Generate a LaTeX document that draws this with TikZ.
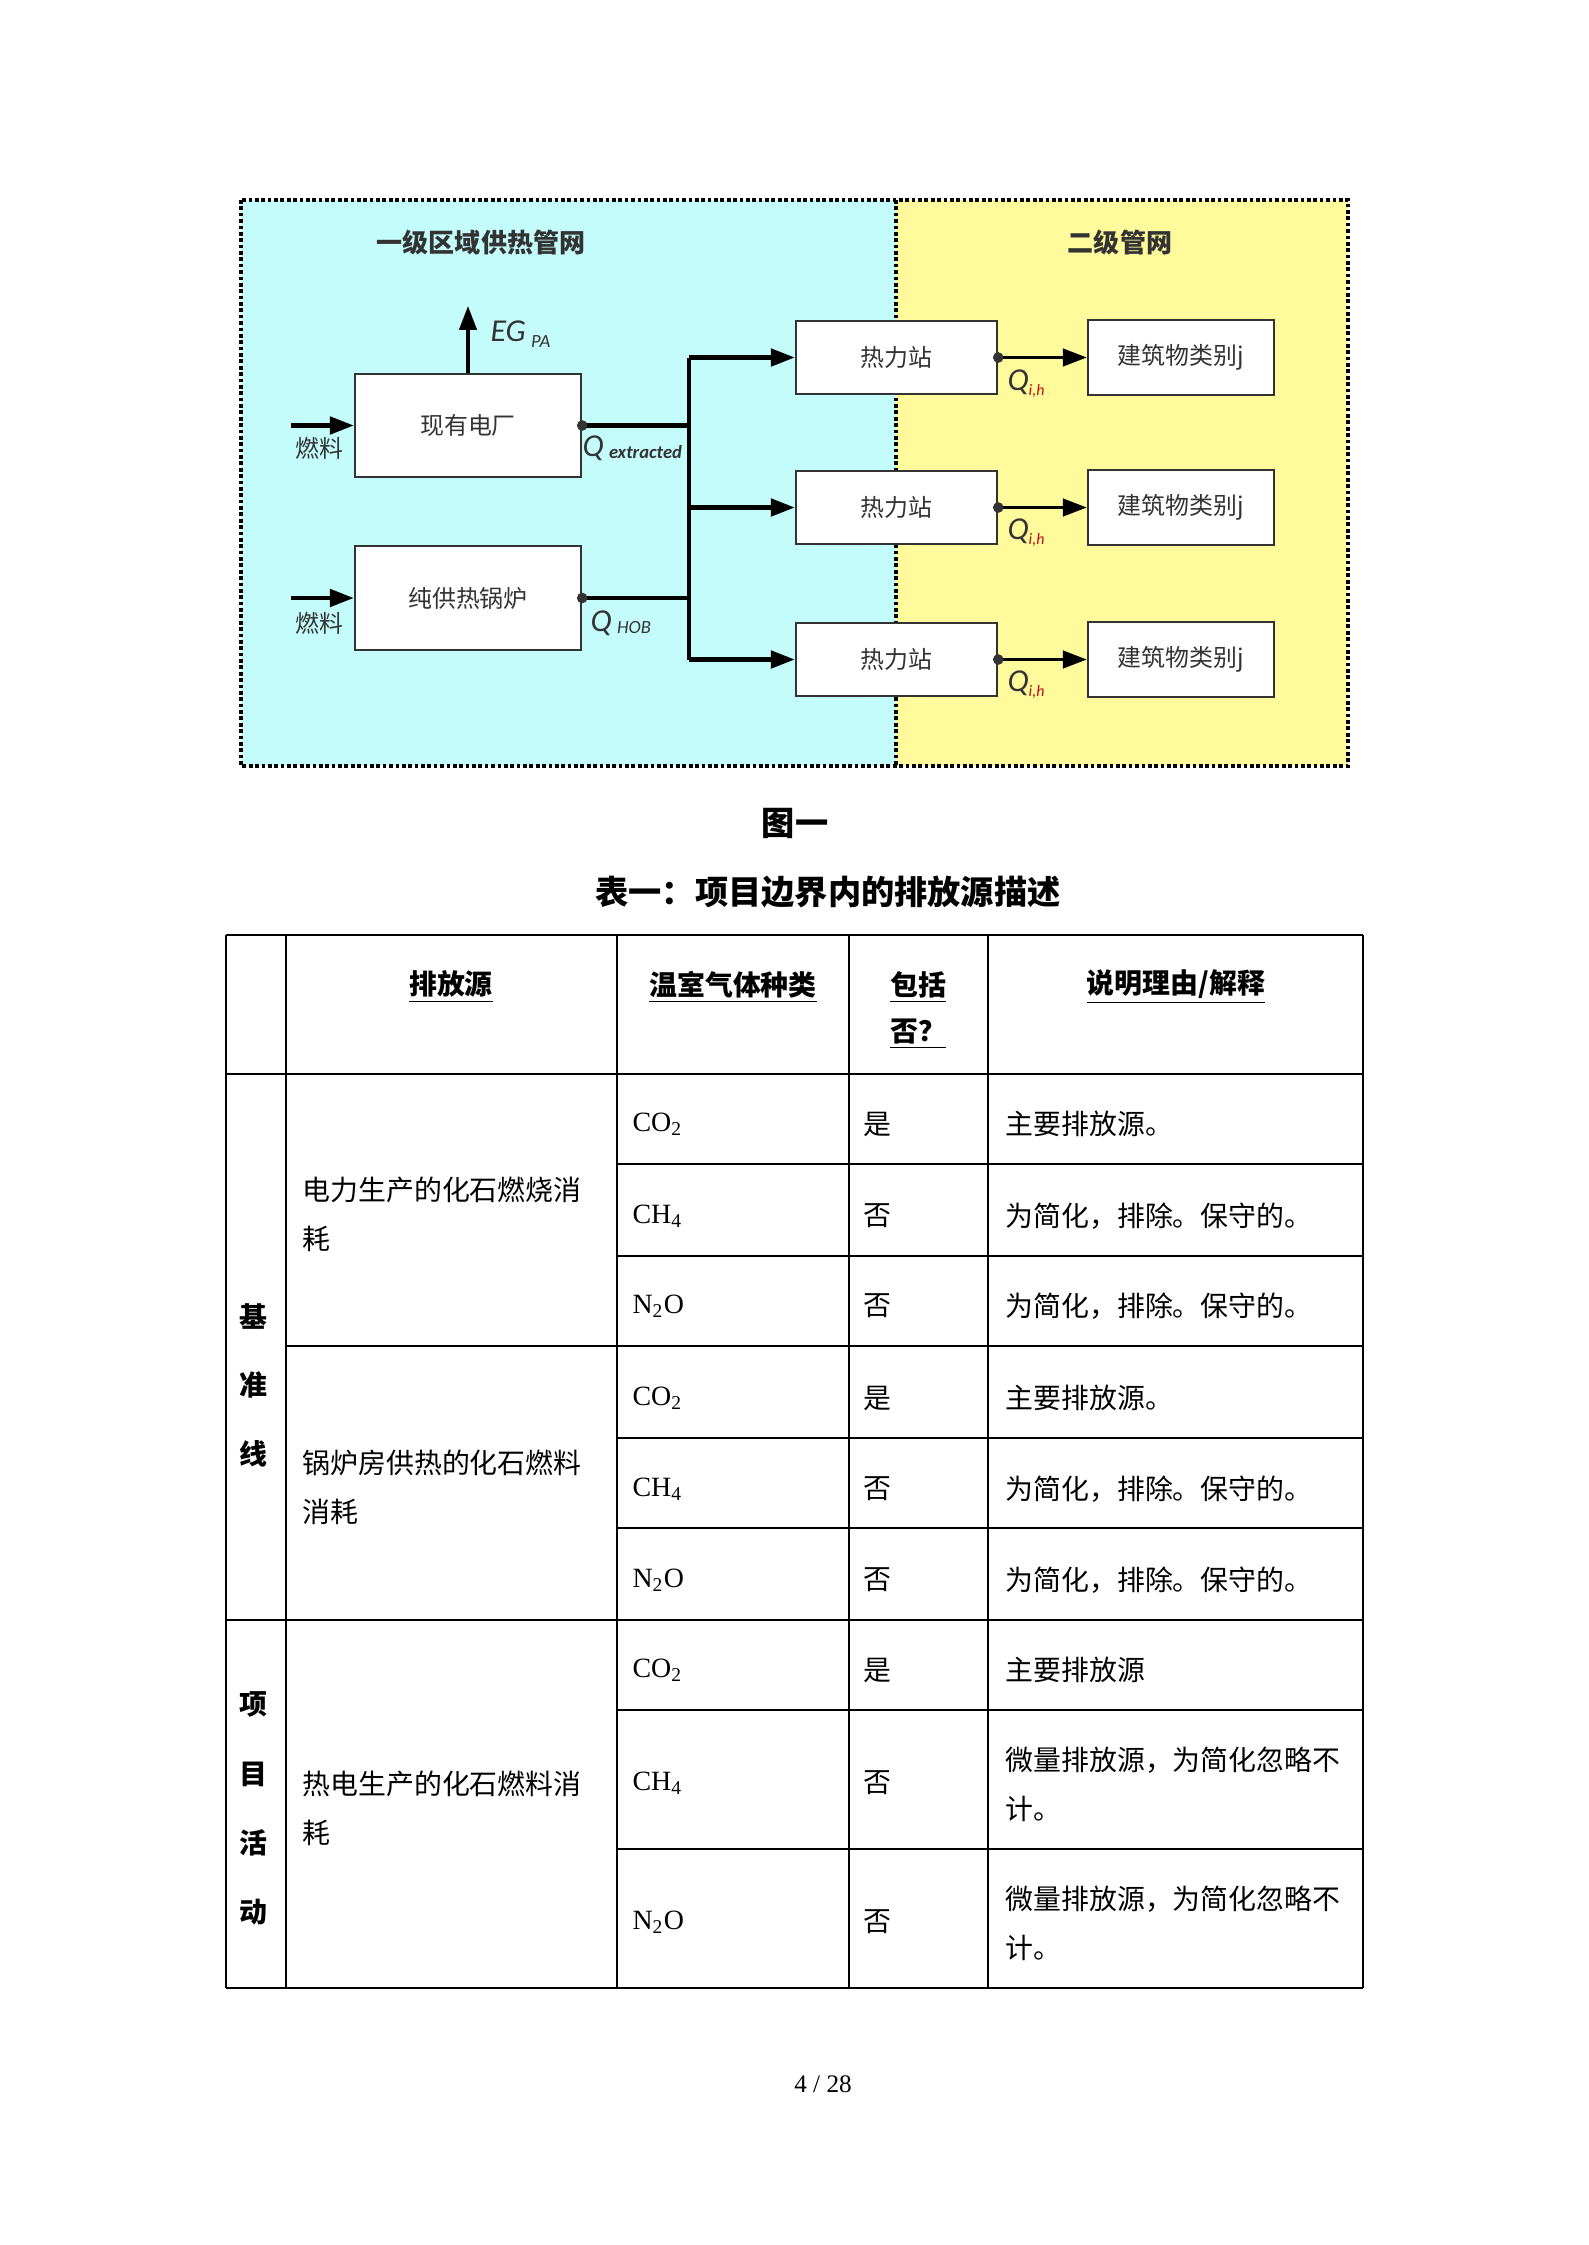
\documentclass[tikz,border=0pt]{standalone}
\usepackage{fontspec}
\setmainfont{Liberation Serif}
\newfontfamily\cjk{Noto Sans CJK SC}
\newfontfamily\diagfont{Carlito}
\usetikzlibrary{arrows.meta,positioning}
\definecolor{NetCyan}{HTML}{C4FCFC}
\definecolor{NetYellow}{HTML}{FFFB9C}
\definecolor{NetInk}{HTML}{333333}
\newcommand\tabcjk{\cjk\fontsize{10.5}{18.4}\selectfont}
\newcommand\tablat{\fontsize{10.5}{18.4}\selectfont}

\begin{document}
\begin{tikzpicture}[x=0.013224cm,y=-0.013224cm,
  box/.style={draw=NetInk,line width=0.9pt,fill=white,inner sep=0pt,text=NetInk,
    font=\cjk\fontsize{9}{11}\selectfont},
  netborder/.style={line width=1.5pt,dash pattern=on 1.4pt off 1pt},
  flow/.style={line width=1.6pt,black},
  flowtip/.style={flow,-{Triangle[length=9pt,width=6.5pt]}},
  qlabel/.style={text=NetInk,inner sep=0pt,font=\diagfont\itshape\fontsize{12}{13}\selectfont},
  hline/.style={line width=0.9pt},
  vline/.style={line width=0.6pt},
  cell/.style={anchor=west,inner sep=0pt,align=left},
  head/.style={inner sep=0pt,font=\cjk\bfseries\fontsize{10.5}{12}\selectfont}]
\path[use as bounding box] (0,0) rectangle (1588,2245);

% heating network
\fill[NetCyan] (241,200) rectangle (896,766);
\fill[NetYellow] (896,200) rectangle (1348,766);
\draw[netborder] (241,200) rectangle (1348,766);
\draw[netborder] (896,200) -- (896,766);
\node[text=NetInk,font=\cjk\bfseries\fontsize{9.8}{11}\selectfont] (primary) at (481,243) {一级区域供热管网};
\node[text=NetInk,font=\cjk\bfseries\fontsize{9.8}{11}\selectfont] (secondary) at (1120,243) {二级管网};

\node[box,minimum width=2.99cm,minimum height=1.36cm] (plant) at (468,425.5) {现有电厂};
\node[box,minimum width=2.99cm,minimum height=1.37cm] (boiler) at (468,598) {纯供热锅炉};
\node[box,minimum width=2.66cm,minimum height=0.97cm] (st1) at (896.5,357.5) {热力站};
\node[box,minimum width=2.66cm,minimum height=0.97cm] (st2) at (896.5,507.5) {热力站};
\node[box,minimum width=2.66cm,minimum height=0.97cm] (st3) at (896.5,659.5) {热力站};
\node[box,minimum width=2.46cm,minimum height=0.99cm] (bd1) at (1181,357.5) {建筑物类别j};
\node[box,minimum width=2.46cm,minimum height=0.99cm] (bd2) at (1181,507.5) {建筑物类别j};
\node[box,minimum width=2.46cm,minimum height=0.99cm] (bd3) at (1181,659.5) {建筑物类别j};

\coordinate (fuelA) at (291,425.5);
\coordinate (fuelB) at (291,598);
\coordinate (egtip) at (468,306);
\coordinate (trunk) at (689,0);

\draw[flowtip] (fuelA) -- (plant.west);
\draw[flowtip] (fuelB) -- (boiler.west);
\draw[flowtip,line width=1.3pt] (plant.north) -- (egtip);
\draw[flow] (plant.east) -- (plant.east -| trunk);
\draw[flow] (boiler.east) -- (boiler.east -| trunk);
\draw[flow] (st1.west -| trunk) -- (st3.west -| trunk);
\draw[flowtip] (st1.west -| trunk) -- (st1.west);
\draw[flowtip] (st2.west -| trunk) -- (st2.west);
\draw[flowtip] (st3.west -| trunk) -- (st3.west);
\draw[flowtip,line width=1.3pt] (st1.east) -- (bd1.west);
\draw[flowtip,line width=1.3pt] (st2.east) -- (bd2.west);
\draw[flowtip,line width=1.3pt] (st3.east) -- (bd3.west);
\fill[NetInk] (plant.east) circle (2pt);
\fill[NetInk] (boiler.east) circle (2pt);
\fill[NetInk] (st1.east) circle (2pt);
\fill[NetInk] (st2.east) circle (2pt);
\fill[NetInk] (st3.east) circle (2pt);

\node[text=NetInk,font=\cjk\fontsize{9}{11}\selectfont] (fuelAlbl) at (319,448) {燃料};
\node[text=NetInk,font=\cjk\fontsize{9}{11}\selectfont] (fuelBlbl) at (319,623) {燃料};
\node[qlabel,anchor=west] (eglbl) at (490,334) {EG\,{\fontsize{7}{8}\selectfont\raisebox{-2pt}{PA}}};
\node[qlabel,anchor=west] (qext) at (582,448) {Q\,{\bfseries\fontsize{7}{8}\selectfont\raisebox{-1pt}{extracted}}};
\node[qlabel,anchor=west] (qhob) at (590,623) {Q\,{\fontsize{7}{8}\selectfont\raisebox{-1pt}{HOB}}};
\node[qlabel,anchor=west] (q1) at (1007,384) {Q{\fontsize{6}{7}\selectfont\raisebox{-2pt}{\textcolor{red!70!NetInk}{i,h}}}};
\node[qlabel,anchor=west] (q2) at (1007,533) {Q{\fontsize{6}{7}\selectfont\raisebox{-2pt}{\textcolor{red!70!NetInk}{i,h}}}};
\node[qlabel,anchor=west] (q3) at (1007,685) {Q{\fontsize{6}{7}\selectfont\raisebox{-2pt}{\textcolor{red!70!NetInk}{i,h}}}};

% captions
\node[font=\cjk\bfseries\fontsize{12.5}{14}\selectfont] (figcap) at (795,823) {图一};
\node[font=\cjk\bfseries\fontsize{12.5}{14}\selectfont] (tabcap) at (828,892) {表一：项目边界内的排放源描述};

% table rules
\draw[hline] (226,935) -- (1363,935);
\draw[hline] (226,1074) -- (1363,1074);
\draw[hline] (617,1164) -- (1363,1164);
\draw[hline] (617,1256) -- (1363,1256);
\draw[hline] (286,1346) -- (1363,1346);
\draw[hline] (617,1438) -- (1363,1438);
\draw[hline] (617,1528) -- (1363,1528);
\draw[hline] (226,1620) -- (1363,1620);
\draw[hline] (617,1710) -- (1363,1710);
\draw[hline] (617,1849) -- (1363,1849);
\draw[hline] (226,1988) -- (1363,1988);
\foreach \cx in {226,286,617,849,988,1363}
  \draw[vline] (\cx,935) -- (\cx,1988);

% header
\node[head] (hsrc) at (451,987) {\underline{排放源}};
\node[head] (hgas) at (733,987) {\underline{温室气体种类}};
\node[head] (hinc) at (918,987) {\underline{包括}};
\node[head] (hinc2) at (918,1034) {\underline{否？}};
\node[head] (hwhy) at (1176,987) {\underline{说明理由/解释}};

% left column
\node[head] (bl1) at (253,1316) {基};
\node[head] (bl2) at (253,1385) {准};
\node[head] (bl3) at (253,1454) {线};
\node[head] (pa1) at (253,1704) {项};
\node[head] (pa2) at (253,1774) {目};
\node[head] (pa3) at (253,1843) {活};
\node[head] (pa4) at (253,1912) {动};

% sources
\node[cell,font=\tabcjk] (srcA) at (302,1214) {电力生产的化石燃烧消\\耗};
\node[cell,font=\tabcjk] (srcB) at (302,1487) {锅炉房供热的化石燃料\\消耗};
\node[cell,font=\tabcjk] (srcC) at (302,1808) {热电生产的化石燃料消\\耗};

% gases
\node[cell,font=\tablat] (g1) at (632,1124) {CO\textsubscript{2}};
\node[cell,font=\tablat] (g2) at (632,1216) {CH\textsubscript{4}};
\node[cell,font=\tablat] (g3) at (632,1306) {N\textsubscript{2}O};
\node[cell,font=\tablat] (g4) at (632,1398) {CO\textsubscript{2}};
\node[cell,font=\tablat] (g5) at (632,1489) {CH\textsubscript{4}};
\node[cell,font=\tablat] (g6) at (632,1580) {N\textsubscript{2}O};
\node[cell,font=\tablat] (g7) at (632,1670) {CO\textsubscript{2}};
\node[cell,font=\tablat] (g8) at (632,1783) {CH\textsubscript{4}};
\node[cell,font=\tablat] (g9) at (632,1922) {N\textsubscript{2}O};

% included
\node[cell,font=\tabcjk] (i1) at (863,1124) {是};
\node[cell,font=\tabcjk] (i2) at (863,1216) {否};
\node[cell,font=\tabcjk] (i3) at (863,1306) {否};
\node[cell,font=\tabcjk] (i4) at (863,1398) {是};
\node[cell,font=\tabcjk] (i5) at (863,1489) {否};
\node[cell,font=\tabcjk] (i6) at (863,1580) {否};
\node[cell,font=\tabcjk] (i7) at (863,1670) {是};
\node[cell,font=\tabcjk] (i8) at (863,1783) {否};
\node[cell,font=\tabcjk] (i9) at (863,1922) {否};

% reasons
\node[cell,font=\tabcjk] (r1) at (1005,1124) {主要排放源。};
\node[cell,font=\tabcjk] (r2) at (1005,1216) {为简化，排除。保守的。};
\node[cell,font=\tabcjk] (r3) at (1005,1306) {为简化，排除。保守的。};
\node[cell,font=\tabcjk] (r4) at (1005,1398) {主要排放源。};
\node[cell,font=\tabcjk] (r5) at (1005,1489) {为简化，排除。保守的。};
\node[cell,font=\tabcjk] (r6) at (1005,1580) {为简化，排除。保守的。};
\node[cell,font=\tabcjk] (r7) at (1005,1670) {主要排放源};
\node[cell,font=\tabcjk] (r8) at (1005,1784) {微量排放源，为简化忽略不\\计。};
\node[cell,font=\tabcjk] (r9) at (1005,1923) {微量排放源，为简化忽略不\\计。};

% page number
\node[font=\fontsize{9.5}{11}\selectfont] (pageno) at (823,2084) {4 / 28};
\end{tikzpicture}
\end{document}
